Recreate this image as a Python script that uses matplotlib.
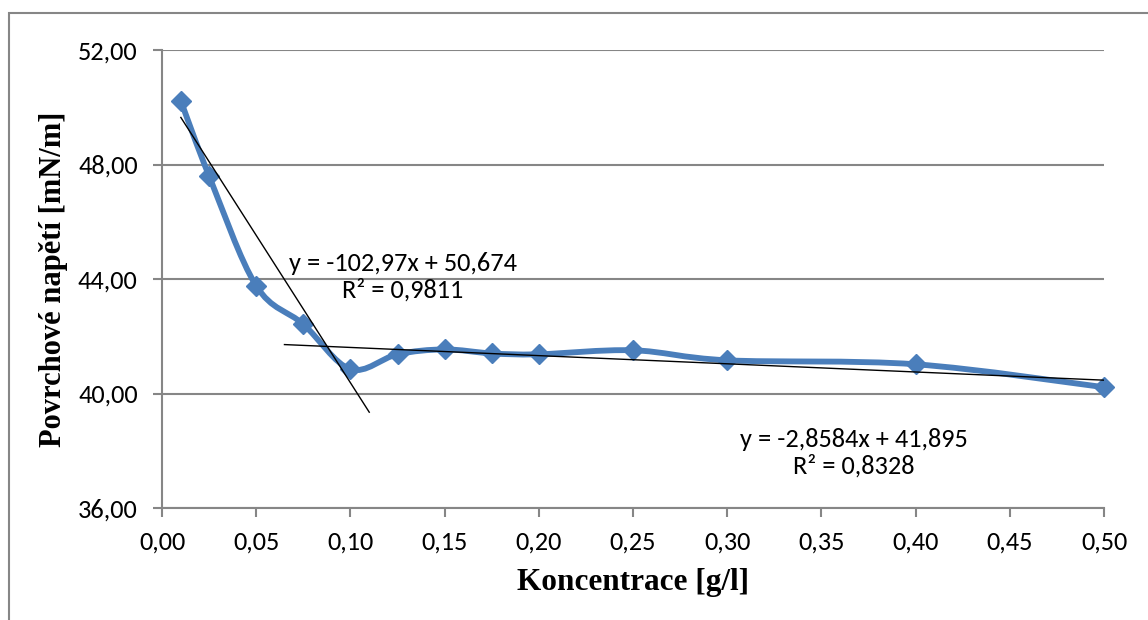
import numpy as np
import matplotlib
matplotlib.use('Agg')
import matplotlib.pyplot as plt
from matplotlib.path import Path
from matplotlib.patches import PathPatch, Rectangle

# values
koncentrace = [0.01, 0.025, 0.05, 0.075, 0.10, 0.125, 0.15, 0.175, 0.20, 0.25, 0.30, 0.40, 0.50]
napeti = [50.22, 47.60, 43.76, 42.42, 40.85, 41.37, 41.54, 41.40, 41.37, 41.51, 41.16, 41.02, 40.22]

# linear trendlines (slope, intercept) and the x span each is drawn over
trend_coef = [(-102.97, 50.674), (-2.8584, 41.895)]
trend_span = [(0.01, 0.11), (0.065, 0.50)]
trend_text = ['y = -102,97x + 50,674\nR² = 0,9811', 'y = -2,8584x + 41,895\nR² = 0,8328']
trend_text_pos = [(0.1277, 44.07), (0.367, 37.92)]

x_ticks = [0.00, 0.05, 0.10, 0.15, 0.20, 0.25, 0.30, 0.35, 0.40, 0.45, 0.50]
y_ticks = [36, 40, 44, 48, 52]

blue = '#4a7ebb'
grey = '#868686'
sans = ['Carlito', 'Lato', 'DejaVu Sans']
serif = ['Liberation Serif', 'DejaVu Serif']


def smooth_path(x, y, t=1 / 6):
    """Bezier path through the points, like Excel's smoothed line."""
    pts = np.column_stack([x, y])
    verts = [pts[0]]
    codes = [Path.MOVETO]
    n = len(pts)
    for i in range(n - 1):
        p0 = pts[i - 1] if i > 0 else pts[i]
        p1, p2 = pts[i], pts[i + 1]
        p3 = pts[i + 2] if i + 2 < n else pts[i + 1]
        c1 = p1 + (p2 - p0) * t
        c2 = p2 - (p3 - p1) * t
        verts += [c1, c2, p2]
        codes += [Path.CURVE4] * 3
    return Path(verts, codes)


fig = plt.figure(figsize=(11.48, 6.2), dpi=100)
fig.patches.append(Rectangle((9 / 1148, -0.1), 1.2, 1.1 - 13 / 620, transform=fig.transFigure,
                             fill=False, edgecolor=grey, linewidth=1.5))

ax = fig.add_axes([162 / 1148, 1 - 508 / 620, (1104 - 162) / 1148, (508 - 50) / 620])

ax.add_patch(PathPatch(smooth_path(koncentrace, napeti), fill=False, edgecolor=blue,
                       linewidth=4.2, capstyle='round', joinstyle='round', zorder=3))
ax.plot(koncentrace, napeti, linestyle='none', marker='D', markersize=10.5,
        color=blue, zorder=4, clip_on=False)

for (k, q), (x0, x1), txt, (tx, ty) in zip(trend_coef, trend_span, trend_text, trend_text_pos):
    xs = np.array([x0, x1])
    ax.plot(xs, k * xs + q, color='black', linewidth=1.0, zorder=5)
    ax.text(tx, ty, txt, ha='center', va='center', fontsize=19, family=sans,
            linespacing=1.15, zorder=6)

ax.set_xlim(0, 0.5)
ax.set_ylim(36, 52)
ax.set_xticks(x_ticks)
ax.set_yticks(y_ticks)
ax.set_xticklabels([f'{v:.2f}'.replace('.', ',') for v in x_ticks], family=sans, fontsize=19)
ax.set_yticklabels([f'{v:.2f}'.replace('.', ',') for v in y_ticks], family=sans, fontsize=19)
ax.tick_params(axis='both', direction='out', length=6.5, width=1.5, color=grey)
ax.tick_params(axis='y', pad=11)
ax.tick_params(axis='x', pad=10)

ax.grid(axis='y', color=grey, linewidth=1.5)
ax.set_axisbelow(True)
for side in ['top', 'right']:
    ax.spines[side].set_visible(False)
for side in ['left', 'bottom']:
    ax.spines[side].set_color(grey)
    ax.spines[side].set_linewidth(1.5)

ax.set_xlabel('Koncentrace [g/l]', family=serif, fontweight='bold', fontsize=22.5, labelpad=10)
ax.set_ylabel('Povrchové napětí [mN/m]', family=serif, fontweight='bold', fontsize=22, labelpad=7)

fig.savefig('out.png', dpi=100)
